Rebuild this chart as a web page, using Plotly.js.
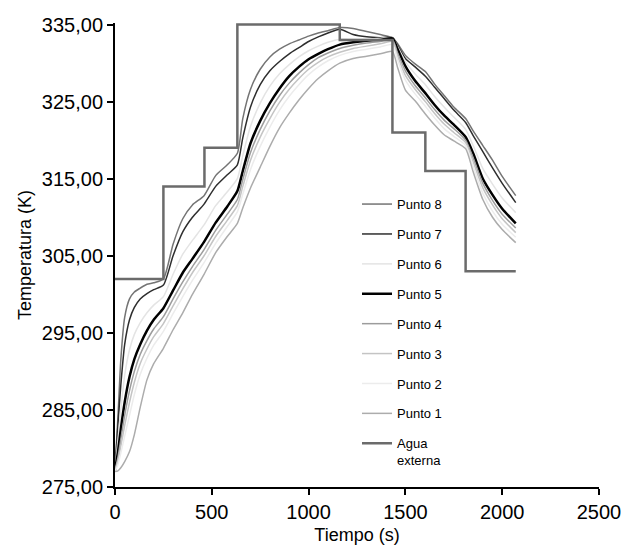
<!DOCTYPE html>
<html>
<head>
<meta charset="utf-8">
<script src="https://cdn.plot.ly/plotly-3.0.1.min.js"></script>
<style>html,body{margin:0;padding:0;background:#fff;}#chart{width:637px;height:558px;}</style>
</head>
<body>
<div id="chart"></div>
<script>
const tiempo = [0, 15, 30, 50, 75, 100, 130, 165, 200, 250, 300, 350, 400, 460, 520, 580, 632, 660, 700, 750, 800, 850, 900, 950, 1000, 1050, 1100, 1161, 1230, 1300, 1370, 1433, 1460, 1500, 1550, 1603, 1650, 1700, 1750, 1811, 1850, 1900, 1950, 2000, 2070];

const punto8 = [277.2, 284.0, 291.5, 297.0, 299.4, 300.3, 300.8, 301.3, 301.5, 302.0, 306.5, 309.8, 311.6, 312.8, 315.4, 316.8, 318.3, 322.8, 326.6, 329.2, 330.8, 331.8, 332.5, 333.0, 333.5, 333.9, 334.2, 334.6, 334.5, 334.1, 333.7, 333.3, 332.5, 331.0, 329.9, 328.9, 327.3, 325.8, 324.3, 322.8, 321.2, 319.3, 317.4, 315.3, 312.8];
const punto7 = [277.2, 283.0, 288.2, 293.5, 296.7, 298.3, 299.4, 300.1, 300.6, 301.2, 305.0, 308.1, 310.0, 311.7, 314.0, 315.5, 316.8, 320.3, 324.3, 327.2, 329.0, 330.2, 331.2, 332.0, 332.8, 333.4, 333.9, 334.4, 333.7, 333.4, 333.3, 333.3, 332.3, 330.6, 329.5, 328.3, 326.9, 325.4, 323.9, 322.3, 320.6, 318.5, 316.4, 314.4, 311.9];
const punto6 = [277.2, 281.0, 285.0, 289.5, 292.8, 294.8, 296.3, 297.6, 298.6, 299.7, 302.6, 305.2, 307.0, 309.0, 311.5, 313.3, 315.0, 318.0, 321.8, 324.8, 327.0, 328.6, 329.8, 330.8, 331.6, 332.2, 332.7, 333.1, 333.1, 333.1, 333.2, 333.3, 332.1, 330.2, 328.6, 327.2, 325.7, 324.3, 323.0, 321.4, 319.3, 316.3, 314.3, 312.5, 310.6];
const punto5 = [277.2, 279.5, 282.5, 286.0, 289.3, 291.6, 293.5, 295.3, 296.7, 298.2, 300.5, 302.8, 304.6, 306.8, 309.3, 311.4, 313.4, 316.0, 319.6, 322.5, 324.8, 326.7, 328.3, 329.5, 330.5, 331.2, 331.8, 332.4, 332.7, 332.9, 333.0, 333.2, 331.8, 329.6, 327.7, 326.1, 324.6, 323.2, 322.0, 320.4, 318.3, 315.0, 312.9, 311.1, 309.2];
const punto4 = [277.1, 278.8, 281.2, 284.3, 287.5, 290.0, 292.2, 294.0, 295.5, 297.1, 299.4, 301.6, 303.6, 305.8, 308.3, 310.4, 312.3, 314.9, 318.4, 321.4, 323.8, 325.8, 327.4, 328.7, 329.8, 330.7, 331.3, 331.9, 332.3, 332.6, 332.8, 333.0, 331.3, 329.0, 327.1, 325.5, 324.0, 322.6, 321.5, 320.0, 317.7, 314.4, 312.2, 310.4, 308.6];
const punto3 = [277.1, 278.4, 280.3, 283.0, 286.0, 288.6, 291.0, 292.9, 294.5, 296.2, 298.5, 300.7, 302.8, 305.0, 307.5, 309.6, 311.5, 314.0, 317.4, 320.4, 322.8, 324.9, 326.6, 328.0, 329.2, 330.1, 330.8, 331.4, 331.9, 332.2, 332.5, 332.8, 330.9, 328.4, 326.6, 325.0, 323.5, 322.1, 321.0, 319.7, 317.2, 313.8, 311.6, 309.8, 308.0];
const punto2 = [277.0, 277.9, 279.4, 281.6, 284.3, 287.0, 289.6, 291.7, 293.4, 295.2, 297.5, 299.7, 301.8, 304.1, 306.6, 308.8, 310.7, 313.0, 316.2, 319.2, 321.7, 323.9, 325.7, 327.2, 328.5, 329.5, 330.3, 331.0, 331.5, 331.8, 332.1, 332.4, 330.4, 327.8, 326.0, 324.4, 322.9, 321.5, 320.5, 319.3, 316.6, 313.1, 310.8, 309.1, 307.4];
const punto1 = [277.0, 277.1, 277.5, 278.3, 279.6, 281.8, 285.3, 288.9, 291.0, 293.0, 295.4, 297.6, 300.0, 302.6, 305.4, 307.5, 309.2, 311.2, 313.8, 316.5, 319.2, 321.6, 323.5, 325.2, 326.7, 328.0, 329.0, 330.0, 330.6, 330.9, 331.2, 331.5, 329.4, 326.5, 325.1, 323.4, 322.0, 320.7, 319.9, 318.9, 315.9, 312.3, 310.0, 308.4, 306.7];

const aguaTiempo = [0, 250, 250, 462, 462, 632, 632, 1161, 1161, 1433, 1433, 1603, 1603, 1811, 1811, 2070];
const aguaTemp = [302, 302, 314, 314, 319, 319, 335, 335, 333, 333, 321, 321, 316, 316, 303, 303];

const nombres = ['Punto 8', 'Punto 7', 'Punto 6', 'Punto 5', 'Punto 4', 'Punto 3', 'Punto 2', 'Punto 1'];
const series = [punto8, punto7, punto6, punto5, punto4, punto3, punto2, punto1];
const colores = ['#747474', '#2e2e2e', '#e4e4e4', '#000000', '#9c9c9c', '#c4c4c4', '#ececec', '#acacac'];
const anchos = [1.5, 1.5, 1.5, 2.5, 1.5, 1.5, 1.5, 1.5];

const traces = series.map((s, i) => ({
  x: tiempo, y: s, type: 'scatter', mode: 'lines', name: nombres[i],
  legendgroup: 'g' + i,
  line: {color: colores[i], width: anchos[i], shape: 'spline', smoothing: 0.6}
}));
traces.push({
  x: aguaTiempo, y: aguaTemp, type: 'scatter', mode: 'lines', name: 'Agua<br>externa',
  legendgroup: 'g8',
  line: {color: '#6b6b6b', width: 2.5}
});

const font = 'Liberation Sans, Arial, sans-serif';
const layout = {
  width: 637, height: 558,
  margin: {l: 115, r: 38, t: 23, b: 71},
  paper_bgcolor: '#fff', plot_bgcolor: '#fff',
  separators: ',.',
  font: {family: font, color: '#000', size: 20},
  showlegend: true,
  legend: {
    x: 0.5, y: 0.642, xanchor: 'left', yanchor: 'top',
    font: {family: font, size: 13, color: '#000'},
    tracegroupgap: 10, traceorder: 'grouped', valign: 'top',
    bgcolor: 'rgba(0,0,0,0)'
  },
  xaxis: {
    range: [0, 2500], tick0: 0, dtick: 500,
    showgrid: false, zeroline: false,
    showline: true, linecolor: '#000', linewidth: 2,
    ticks: 'outside', ticklen: 6, tickwidth: 2, tickcolor: '#000',
    tickfont: {family: font, size: 20, color: '#000'},
    title: {text: 'Tiempo (s)', font: {family: font, size: 18, color: '#000'}, standoff: 6}
  },
  yaxis: {
    range: [275, 335.2], tick0: 275, dtick: 10, tickformat: '.2f',
    showgrid: false, zeroline: false,
    showline: true, linecolor: '#000', linewidth: 2,
    ticks: 'outside', ticklen: 6, tickwidth: 2, tickcolor: '#000',
    tickfont: {family: font, size: 20, color: '#000'},
    automargin: true,
    title: {text: 'Temperatura (K)', font: {family: font, size: 18, color: '#000'}, standoff: 6}
  }
};

Plotly.newPlot('chart', traces, layout, {displayModeBar: false, staticPlot: true});
</script>
</body>
</html>
